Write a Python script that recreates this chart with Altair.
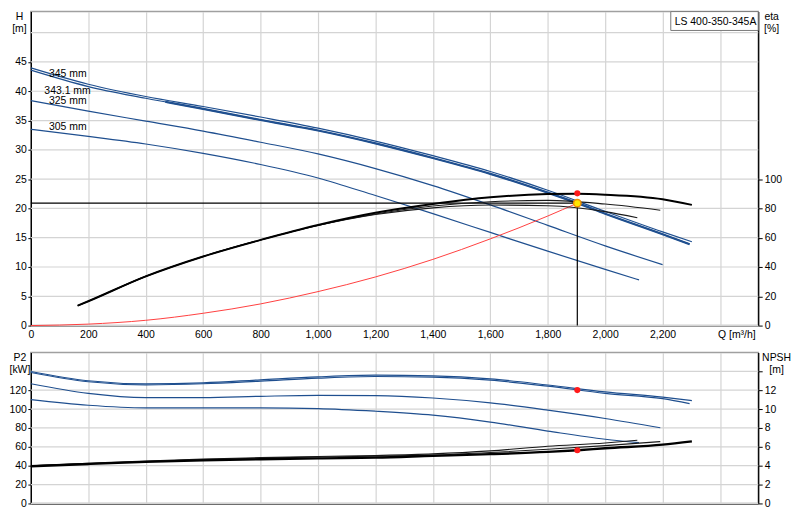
import altair as alt
import pandas as pd

# ---------------- data ----------------
MODEL = "LS 400-350-345A"

# H-Q curves [m]
q_345 = [0, 200, 400, 600, 800, 1000, 1200, 1400, 1600, 1800, 2000, 2200, 2302]
h_345 = [44.0, 41.2, 39.1, 37.4, 35.6, 33.7, 31.5, 29.0, 26.3, 23.1, 19.5, 16.0, 14.3]
q_343 = [0, 200, 400, 600, 800, 1000, 1200, 1400, 1600, 1800, 1903, 2000, 2200, 2294]
h_343 = [43.6, 40.8, 38.8, 37.0, 35.1, 33.3, 31.1, 28.6, 25.9, 22.7, 20.9, 19.1, 15.6, 13.9]
q_343_op = [468, 600, 800, 1000, 1200, 1400, 1600, 1800, 1903, 2000, 2200, 2294]
h_343_op = [38.2, 37.0, 35.1, 33.3, 31.1, 28.6, 25.9, 22.7, 20.9, 19.1, 15.6, 13.9]
q_325 = [0, 200, 400, 600, 800, 1000, 1200, 1400, 1600, 1800, 2000, 2200]
h_325 = [38.4, 36.6, 34.9, 33.2, 31.3, 29.3, 26.8, 23.9, 20.6, 17.1, 13.6, 10.4]
q_305 = [0, 200, 400, 600, 800, 1000, 1200, 1400, 1600, 1800, 2000, 2118]
h_305 = [33.5, 32.3, 31.0, 29.4, 27.5, 25.2, 22.2, 19.1, 15.9, 12.7, 9.6, 7.8]

diam_labels = ["345 mm", "343.1 mm", "325 mm", "305 mm"]
diam_label_q = [63, 47, 63, 63]
diam_label_h = [43.0, 40.1, 38.3, 33.9]

# duty point
duty_q = [1903]
duty_h = [20.9]
duty_eta = [90.3]
duty_p2 = [120.1]
duty_npsh = [5.64]

# system curve (red)
sys_q = [0, 200, 400, 600, 800, 1000, 1200, 1400, 1600, 1800, 1903]
sys_h = [0.0, 0.25, 0.9, 2.1, 3.7, 5.8, 8.3, 11.3, 14.8, 18.7, 20.9]

# efficiency [%]
eq_main = [163, 200, 400, 600, 800, 1000, 1200, 1400, 1600, 1800, 1903, 2000, 2200, 2302]
eta_main = [13.6, 16.6, 33.6, 47.2, 58.5, 68.7, 77.0, 83.0, 87.6, 89.8, 90.0, 89.4, 86.3, 82.4]
eq_325 = [163, 200, 400, 600, 800, 1000, 1200, 1400, 1600, 1800, 2000, 2192]
eta_325 = [13.6, 16.6, 33.6, 47.2, 58.5, 68.5, 76.2, 81.6, 84.6, 85.5, 83.0, 78.8]
eq_305 = [163, 200, 400, 600, 800, 1000, 1200, 1400, 1600, 1800, 2000, 2112]
eta_305 = [13.6, 16.6, 33.6, 47.2, 58.5, 68.3, 75.8, 80.4, 82.3, 81.8, 77.8, 73.6]

# shaft power P2 [kW]
pq_345 = [0, 200, 400, 600, 800, 1000, 1200, 1400, 1600, 1800, 2000, 2200, 2302]
p2_345 = [139.8, 130.0, 126.8, 127.8, 131.0, 134.1, 135.9, 135.2, 132.0, 125.5, 118.2, 112.6, 109.0]
pq_343 = [0, 200, 400, 600, 800, 1000, 1200, 1400, 1600, 1800, 2000, 2200, 2294]
p2_343 = [138.7, 128.9, 125.7, 126.8, 129.6, 132.7, 134.5, 133.8, 130.6, 124.2, 116.6, 111.0, 105.8]
pq_325 = [0, 200, 400, 600, 800, 1000, 1200, 1400, 1600, 1800, 2000, 2192]
p2_325 = [126.8, 116.6, 112.1, 112.1, 113.5, 114.5, 114.2, 111.7, 106.5, 98.8, 90.0, 80.2]
pq_305 = [0, 200, 400, 600, 800, 1000, 1200, 1400, 1600, 1800, 2000, 2118]
p2_305 = [110.0, 104.0, 101.2, 101.2, 101.2, 100.5, 97.7, 93.5, 86.2, 76.7, 68.0, 64.4]

# NPSH [m]
nq_main = [0, 200, 400, 600, 800, 1000, 1200, 1400, 1600, 1800, 1905, 2000, 2200, 2302]
npsh_main = [3.94, 4.18, 4.40, 4.56, 4.68, 4.78, 4.85, 5.04, 5.22, 5.46, 5.64, 5.85, 6.23, 6.58]
nq_325 = [0, 200, 400, 600, 800, 1000, 1200, 1400, 1600, 1800, 2000, 2192]
npsh_325 = [3.98, 4.22, 4.45, 4.64, 4.80, 4.92, 5.00, 5.12, 5.39, 5.74, 6.13, 6.55]
nq_305 = [0, 200, 400, 600, 800, 1000, 1200, 1400, 1600, 1800, 2000, 2112]
npsh_305 = [4.00, 4.25, 4.50, 4.70, 4.85, 4.97, 5.08, 5.25, 5.57, 6.06, 6.41, 6.69]

# axis ticks / gridlines
x_tick_values = [0, 200, 400, 600, 800, 1000, 1200, 1400, 1600, 1800, 2000, 2200, 2400]
h_label_values = [0, 5, 10, 15, 20, 25, 30, 35, 40, 45]
h_grid_values = [0, 5, 10, 15, 20, 25, 30, 35, 40, 45, 50]
eta_label_values = [0, 20, 40, 60, 80, 100]
p2_label_values = [0, 20, 40, 60, 80, 100, 120]
p2_grid_values = [0, 20, 40, 60, 80, 100, 120, 140]
npsh_tick_values = [0, 2, 4, 6, 8, 10, 12, 14]

# ---------------- styling ----------------
FONT = "Liberation Sans"
FS = 10.5
BLUE = "#1f4f8f"
RED = "#ff1a1a"
GRID = "#d4d4d4"
W = 732
H_TOP = 316
H_BOT = 152
Q_MAX = 2533
H_MAX = 53.6
ETA_MAX = H_MAX * 4
P2_MAX = 160
NPSH_MAX = 16
MANY = 40  # tick count above the number of explicit values, so none get thinned


def long(name, qs, vs):
    return pd.DataFrame({"Q": qs, "V": vs, "curve": name})


xscale = alt.Scale(domain=[0, Q_MAX], nice=False, zero=False)

x_axis_top = alt.Axis(
    values=x_tick_values, tickCount=MANY,
    labelExpr="datum.value > 2300 ? '' : format(datum.value, ',')",
    title="Q [m³/h]", titleX=710, titleY=4, titleBaseline="top", titleAlign="center",
    titleAngle=0, ticks=False, labelPadding=4, labelFlush=False, labelOverlap=False,
    domainColor="#8a8a8a", domainWidth=2, grid=True,
)
x_axis_bot = alt.Axis(
    values=x_tick_values, tickCount=MANY, labels=False, ticks=False, title=None, grid=True,
    domainColor="#444444", domainWidth=1.6,
)

# ---------------- top panel ----------------
h_df = pd.concat([
    long("345 mm", q_345, h_345),
    long("343.1 mm", q_343, h_343),
    long("325 mm", q_325, h_325),
    long("305 mm", q_305, h_305),
])
h_scale = alt.Scale(domain=[0, H_MAX], nice=False, zero=True)
h_axis = alt.Axis(
    values=h_label_values, tickCount=MANY, tickSize=3, labelPadding=1.5, labelOverlap=False,
    title=["H", "[m]"], titleX=-12, titleY=0, titleAngle=0, titleAlign="center",
    titleBaseline="top", titleLineHeight=12, domainColor="black", domainWidth=1.3, grid=False,
)

h_grid = alt.Chart(pd.DataFrame({"V": h_grid_values})).mark_rule(
    color=GRID, strokeWidth=1.2).encode(
    y=alt.Y("V:Q", scale=h_scale, axis=h_axis))
h_lines = alt.Chart(h_df).mark_line(color=BLUE, strokeWidth=1.2, interpolate="monotone").encode(
    x=alt.X("Q:Q", scale=xscale, axis=x_axis_top),
    y=alt.Y("V:Q"),
    detail="curve:N",
)
h_op = alt.Chart(long("op", q_343_op, h_343_op)).mark_line(
    color=BLUE, strokeWidth=2.2, interpolate="monotone").encode(x="Q:Q", y="V:Q")

sys_line = alt.Chart(long("sys", sys_q, sys_h)).mark_line(
    color="#ff4040", strokeWidth=1, interpolate="monotone").encode(x="Q:Q", y="V:Q")

duty_df = pd.DataFrame({"Q": duty_q, "V": duty_h, "Q0": [0], "V0": [0]})
duty_h_rule = alt.Chart(duty_df).mark_rule(color="black", strokeWidth=1.2).encode(
    x="Q0:Q", x2="Q:Q", y="V:Q")
duty_v_rule = alt.Chart(duty_df).mark_rule(color="black", strokeWidth=1.2).encode(
    x="Q:Q", y="V0:Q", y2="V:Q")
duty_pt = alt.Chart(duty_df).mark_circle(
    color="#ffe800", stroke="#f09000", strokeWidth=1.5, size=55, opacity=1).encode(
    x="Q:Q", y=alt.Y("V:Q", scale=h_scale, axis=None))

lab_df = pd.DataFrame({"Q": diam_label_q, "V": diam_label_h, "t": diam_labels})
diam_text = alt.Chart(lab_df).mark_text(
    align="left", baseline="middle", font=FONT, fontSize=FS, color="black").encode(
    x="Q:Q", y="V:Q", text="t:N")

box_df = pd.DataFrame({"t": [MODEL]})
box = alt.Chart(box_df).mark_rect(fill="white", stroke="#7a7a7a", strokeWidth=1).encode(
    x=alt.value(644), x2=alt.value(732), y=alt.value(0), y2=alt.value(19))
box_text = alt.Chart(box_df).mark_text(
    align="center", baseline="middle", font=FONT, fontSize=FS, color="black").encode(
    x=alt.value(689), y=alt.value(10), text="t:N")

h_group = alt.layer(h_grid, h_lines, h_op, sys_line, duty_h_rule, duty_v_rule,
                    diam_text, box, box_text)

eta_axis = alt.Axis(
    values=eta_label_values, tickCount=MANY, orient="right", grid=False, tickSize=4,
    labelPadding=2, labelOverlap=False,
    title=["eta", "[%]"], titleX=13, titleY=0, titleAngle=0, titleAlign="center",
    titleBaseline="top", titleLineHeight=12, domainColor="black", domainWidth=1.3,
)
eta_scale = alt.Scale(domain=[0, ETA_MAX], nice=False, zero=True)
eta_thin_df = pd.concat([long("325", eq_325, eta_325), long("305", eq_305, eta_305)])
eta_thin = alt.Chart(eta_thin_df).mark_line(
    color="#1a1a1a", strokeWidth=1.1, interpolate="monotone").encode(
    x="Q:Q", y=alt.Y("V:Q", scale=eta_scale, axis=eta_axis), detail="curve:N")
eta_main_line = alt.Chart(long("main", eq_main, eta_main)).mark_line(
    color="black", strokeWidth=2, interpolate="monotone").encode(x="Q:Q", y="V:Q")
eta_dot = alt.Chart(pd.DataFrame({"Q": duty_q, "V": duty_eta})).mark_circle(
    color=RED, size=38, opacity=1).encode(x="Q:Q", y="V:Q")
eta_group = alt.layer(eta_thin, eta_main_line, eta_dot)

top = alt.layer(h_group, eta_group, duty_pt).resolve_scale(y="independent").properties(
    width=W, height=H_TOP)

# ---------------- bottom panel ----------------
p2_df = pd.concat([
    long("345", pq_345, p2_345), long("343.1", pq_343, p2_343),
    long("325", pq_325, p2_325), long("305", pq_305, p2_305),
])
p2_scale = alt.Scale(domain=[0, P2_MAX], nice=False)
p2_axis = alt.Axis(
    values=p2_label_values, tickCount=MANY, tickSize=3, labelPadding=1.5, labelOverlap=False,
    title=["P2", "[kW]"], titleX=-11.5, titleY=0, titleAngle=0, titleAlign="center",
    titleBaseline="top", titleLineHeight=12, domainColor="black", domainWidth=1.3, grid=False,
)
p2_grid = alt.Chart(pd.DataFrame({"V": p2_grid_values})).mark_rule(
    color=GRID, strokeWidth=1.2).encode(
    y=alt.Y("V:Q", scale=p2_scale, axis=p2_axis))
p2_lines = alt.Chart(p2_df).mark_line(color=BLUE, strokeWidth=1.2, interpolate="monotone").encode(
    x=alt.X("Q:Q", scale=xscale, axis=x_axis_bot),
    y=alt.Y("V:Q"),
    detail="curve:N",
)
p2_dot = alt.Chart(pd.DataFrame({"Q": duty_q, "V": duty_p2})).mark_circle(
    color=RED, size=38, opacity=1).encode(x="Q:Q", y="V:Q")
p2_group = alt.layer(p2_grid, p2_lines, p2_dot)

npsh_axis = alt.Axis(
    values=npsh_tick_values, tickCount=MANY,
    labelExpr="datum.value > 12 ? '' : format(datum.value, 'd')",
    orient="right", grid=False, tickSize=4, labelPadding=2, labelOverlap=False,
    title=["NPSH", "[m]"], titleX=18, titleY=0, titleAngle=0, titleAlign="center",
    titleBaseline="top", titleLineHeight=12, domainColor="black", domainWidth=1.3,
)
npsh_thin_df = pd.concat([long("325", nq_325, npsh_325), long("305", nq_305, npsh_305)])
npsh_thin = alt.Chart(npsh_thin_df).mark_line(
    color="#1a1a1a", strokeWidth=1.1, interpolate="monotone").encode(
    x="Q:Q", y=alt.Y("V:Q", scale=alt.Scale(domain=[0, NPSH_MAX], nice=False), axis=npsh_axis),
    detail="curve:N")
npsh_main_line = alt.Chart(long("main", nq_main, npsh_main)).mark_line(
    color="black", strokeWidth=2.4, interpolate="monotone").encode(x="Q:Q", y="V:Q")
npsh_dot = alt.Chart(pd.DataFrame({"Q": duty_q, "V": duty_npsh})).mark_circle(
    color=RED, size=38, opacity=1).encode(x="Q:Q", y="V:Q")
npsh_group = alt.layer(npsh_thin, npsh_main_line, npsh_dot)

bottom = alt.layer(p2_group, npsh_group).resolve_scale(y="independent").properties(
    width=W, height=H_BOT)

chart = alt.vconcat(top, bottom, spacing=27, bounds="flush", padding=0).configure_view(
    stroke="#a0a0a0", strokeWidth=1.5
).configure_axis(
    labelFont=FONT, labelFontSize=FS, labelColor="black", labelOverlap=False,
    titleFont=FONT, titleFontSize=FS, titleFontWeight="normal", titleColor="black",
    gridColor=GRID, gridWidth=1.2, tickColor="black",
)

chart.save("out.html", embed_options={"renderer": "svg", "actions": False})
